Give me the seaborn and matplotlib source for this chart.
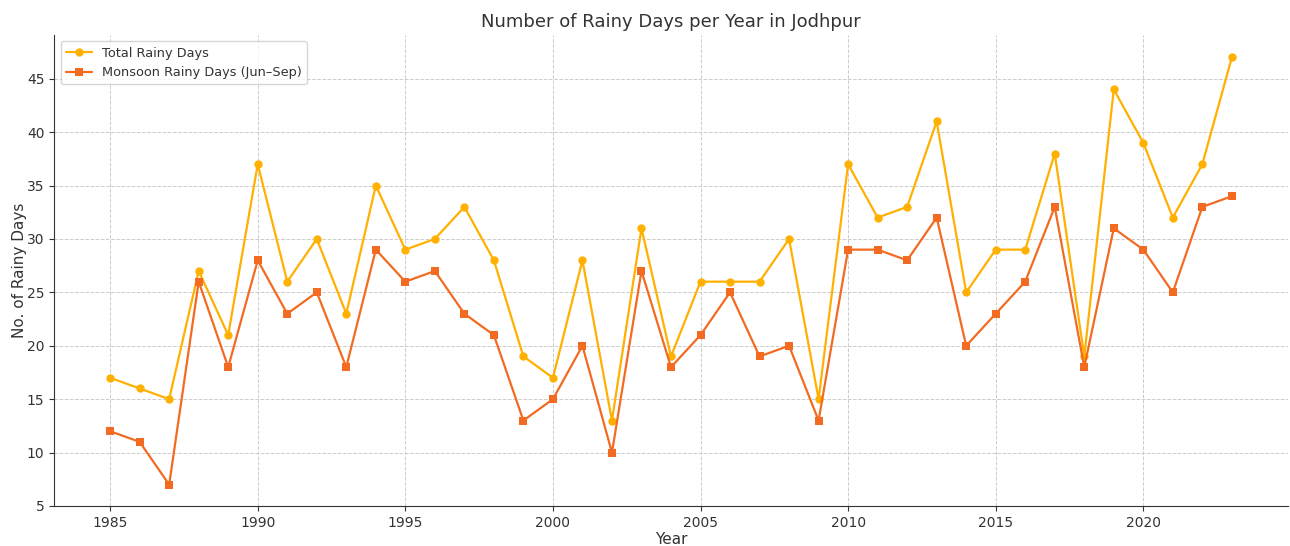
import numpy as np
import pandas as pd
import matplotlib
matplotlib.use("Agg")
import matplotlib.pyplot as plt
import seaborn as sns

years = list(range(1985, 2024))
total_days = [17, 16, 15, 27, 21, 37, 26, 30, 23, 35,
              29, 30, 33, 28, 19, 17, 28, 13, 31, 19,
              26, 26, 26, 30, 15, 37, 32, 33, 41, 25,
              29, 29, 38, 19, 44, 39, 32, 37, 47]
monsoon_days = [12, 11, 7, 26, 18, 28, 23, 25, 18, 29,
                26, 27, 23, 21, 13, 15, 20, 10, 27, 18,
                21, 25, 19, 20, 13, 29, 29, 28, 32, 20,
                23, 26, 33, 18, 31, 29, 25, 33, 34]

df = pd.DataFrame({"Year": years, "Total": total_days, "Monsoon": monsoon_days})

sns.set_style("ticks")
plt.rcParams["font.family"] = ["DejaVu Sans"]
plt.rcParams["text.color"] = "#333333"
plt.rcParams["axes.labelcolor"] = "#333333"

fig = plt.figure(figsize=(12.9, 5.46), dpi=100)
ax = fig.add_axes([0.0419, 0.0733, 0.9565, 0.8627])

sns.lineplot(data=df, x="Year", y="Total", ax=ax, color="#FFB000", marker="o",
             markersize=6, markeredgewidth=0, linewidth=1.6, label="Total Rainy Days")
sns.lineplot(data=df, x="Year", y="Monsoon", ax=ax, color="#F26B21", marker="s",
             markersize=6, markeredgewidth=0, linewidth=1.6,
             label="Monsoon Rainy Days (Jun\u2013Sep)")

ax.set_xlim(1983.1, 2024.9)
ax.set_ylim(5, 49.1)
ax.set_xticks(range(1985, 2021, 5))
ax.set_yticks(range(5, 46, 5))
ax.grid(True, linestyle="--", color="#cccccc", linewidth=0.7)
ax.set_axisbelow(True)
sns.despine(ax=ax)
ax.spines["left"].set_color("#333333")
ax.spines["bottom"].set_color("#333333")
ax.tick_params(labelsize=10, colors="#333333")

ax.set_title("Number of Rainy Days per Year in Jodhpur", fontsize=13, pad=6)
ax.set_xlabel("Year", fontsize=11, labelpad=2)
ax.set_ylabel("No. of Rainy Days", fontsize=11, labelpad=0)
ax.legend(loc="upper left", fontsize=9.3, frameon=True)

fig.savefig("out.png", dpi=100)
